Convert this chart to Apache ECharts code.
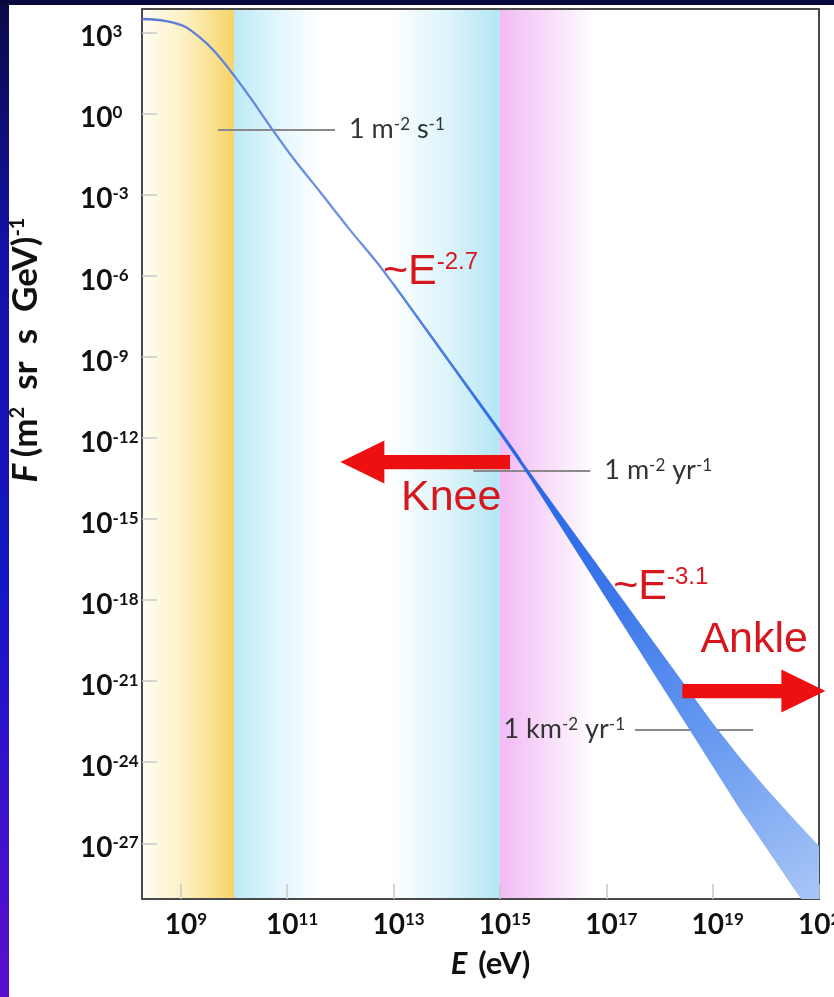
<!DOCTYPE html>
<html><head><meta charset="utf-8">
<script src="https://cdn.jsdelivr.net/npm/echarts@6/dist/echarts.min.js"></script>
<style>html,body{margin:0;padding:0;background:#fff;}#c{width:834px;height:997px;}</style>
</head><body><div id="c"></div>
<script>
// ---------- data (log10 values) ----------
const xTickExps = [9, 11, 13, 15, 17, 19, 21];
const yTickExps = [3, 0, -3, -6, -9, -12, -15, -18, -21, -24, -27];
const xRange = [8.27, 21];
const yRange = [-29.06, 3.86];

// measured spectrum (low-energy single line)
const spectrumLogE = [8.27, 8.70, 9.08, 9.455, 9.74, 10.02, 10.30, 10.73, 11.11, 11.62, 12.18, 12.80, 14.06, 15.25, 15.38];
const spectrumLogF = [3.49, 3.42, 3.20, 2.64, 2.05, 1.35, 0.60, -0.62, -1.65, -2.91, -4.31, -5.80, -9.21, -12.45, -12.82];

// uncertainty band (high energy)
const bandLogE      = [13.0, 14.0, 15.0, 15.5, 16.0, 16.5, 17.0, 17.5, 18.0, 18.5, 19.0, 19.5, 20.0, 20.5, 21.0];
const bandUpperLogF = [-6.27, -8.98, -11.68, -13.10, -14.45, -15.80, -17.15, -18.50, -19.85, -21.20, -22.55, -23.80, -24.95, -26.05, -27.10];
const bandLowerLogF = [-6.39, -9.12, -11.88, -13.30, -14.85, -16.40, -17.95, -19.50, -21.05, -22.60, -24.15, -25.70, -27.15, -28.60, -30.00];

// shaded energy regions
const regionStart = [8.27, 10, 15];
const regionEnd   = [10, 15, 16.8];

// reference flux lines
const refLogF   = [-0.62, -13.23, -22.81];
const refStart  = [9.70, 14.50, 17.54];
const refEnd    = [11.90, 16.70, 19.76];
const refLabels = ['1 m{s|-2} s{s|-1}', '1 m{s|-2} yr{s|-1}', '1 km{s|-2} yr{s|-1}'];
const refLabelAtStart = [false, false, true];

// arrows (tail -> tip)
const arrowTailE = [15.19, 18.43];
const arrowTipE  = [12.00, 21.12];
const arrowLogF  = [-12.9, -21.37];

// red annotations
const noteE    = [12.80, 17.13, 13.14, 18.77];
const noteLogF = [-5.87, -17.52, -14.23, -19.48];
const noteText = ['{m|~E}{p|-2.7}', '{m|~E}{p|-3.1}', '{m|Knee}', '{m|Ankle}'];

// ---------- styling ----------
const LABEL_FONT = 'Lato';
const RED_FONT = 'Liberation Sans';
const regionFills = [
  new echarts.graphic.LinearGradient(0, 0, 1, 0, [
    {offset: 0, color: '#FFFDF5'}, {offset: 0.45, color: '#FDF1C4'}, {offset: 1, color: '#F8D466'}]),
  new echarts.graphic.LinearGradient(0, 0, 1, 0, [
    {offset: 0, color: '#BDEAF6'}, {offset: 0.18, color: '#E4F7FC'}, {offset: 0.33, color: '#FFFFFF'},
    {offset: 0.58, color: '#FFFFFF'}, {offset: 0.8, color: '#DDF4FA'}, {offset: 1, color: '#B3E6F3'}]),
  new echarts.graphic.LinearGradient(0, 0, 1, 0, [
    {offset: 0, color: '#F2BAF6'}, {offset: 0.5, color: '#F8DCFA'}, {offset: 1, color: '#FFFFFF'}])
];
const tickRich = {
  b: {fontSize: 28, fontWeight: 'bold', fontFamily: LABEL_FONT, color: '#111'},
  s: {fontSize: 17, fontWeight: 'bold', fontFamily: LABEL_FONT, color: '#111', verticalAlign: 'top'}
};
const titleRich = {
  i: {fontSize: 35, fontWeight: 'bold', fontStyle: 'italic', fontFamily: LABEL_FONT, color: '#111'},
  n: {fontSize: 35, fontWeight: 'bold', fontFamily: LABEL_FONT, color: '#111'},
  s: {fontSize: 20, fontWeight: 'bold', fontFamily: LABEL_FONT, color: '#111', verticalAlign: 'top'}
};
const xTitleRich = {
  i: {fontSize: 31, fontWeight: 'bold', fontStyle: 'italic', fontFamily: LABEL_FONT, color: '#111'},
  n: {fontSize: 31, fontWeight: 'bold', fontFamily: LABEL_FONT, color: '#111'}
};
const frameLine = {show: true, onZero: false, lineStyle: {color: '#4a4a4a', width: 2}};

const chart = echarts.init(document.getElementById('c'));
chart.setOption({
  animation: false,
  backgroundColor: '#ffffff',
  graphic: [
    {type: 'rect', left: 0, top: 0, shape: {width: 9, height: 997}, z: 100,
     style: {fill: new echarts.graphic.LinearGradient(0, 0, 0, 1, [
       {offset: 0, color: '#0A0A45'}, {offset: 0.25, color: '#1212A8'}, {offset: 0.6, color: '#1616C4'}, {offset: 1, color: '#5A0ECF'}])}},
    {type: 'rect', left: 0, top: 0, shape: {width: 834, height: 5}, z: 100, style: {fill: '#08083C'}}
  ],
  grid: {left: 142, top: 9, right: 15, bottom: 98, containLabel: false, outerBoundsMode: 'none'},
  xAxis: [{
    type: 'value', min: xRange[0], max: xRange[1], position: 'bottom', z: 3,
    axisLine: frameLine, splitLine: {show: false},
    axisTick: {show: true, inside: true, length: 15, customValues: xTickExps, lineStyle: {color: '#C8C8C8', width: 1.5}},
    axisLabel: {customValues: xTickExps, margin: 12, padding: [0, 0, 0, 10],
      formatter: v => '{b|10}{s|' + v + '}', rich: tickRich},
    name: '{i|E} {n| (eV)}', nameLocation: 'middle', nameGap: 49,
    nameTextStyle: {rich: xTitleRich, padding: [0, 0, 0, 20]}
  }, {
    type: 'value', min: xRange[0], max: xRange[1], position: 'top', z: 3,
    axisLine: frameLine, axisTick: {show: false}, axisLabel: {show: false}, splitLine: {show: false}
  }],
  yAxis: [{
    type: 'value', min: yRange[0], max: yRange[1], position: 'left', z: 3,
    axisLine: frameLine, splitLine: {show: false},
    axisTick: {show: true, inside: true, length: 15, customValues: yTickExps, lineStyle: {color: '#C8C8C8', width: 1.5}},
    axisLabel: {customValues: yTickExps, margin: 62, align: 'left', padding: [10, 0, 0, 0],
      formatter: v => '{b|10}{s|' + v + '}', rich: tickRich},
    name: '{i|F}  {n|(m}{s|2}{n|  sr  s  GeV)}{s|-1}', nameLocation: 'middle', nameGap: 99, nameRotate: 90,
    nameTextStyle: {rich: titleRich, padding: [0, 0, 0, 208]}
  }, {
    type: 'value', min: yRange[0], max: yRange[1], position: 'right', z: 3,
    axisLine: frameLine, axisTick: {show: false}, axisLabel: {show: false}, splitLine: {show: false}
  }],
  series: [
    { // energy regions
      type: 'custom', z: 1, silent: true,
      data: regionStart.map((s, i) => [s, regionEnd[i], i]),
      encode: {x: [0, 1]},
      renderItem(params, api) {
        const i = api.value(2);
        const p0 = api.coord([api.value(0), yRange[1]]);
        const p1 = api.coord([api.value(1), yRange[0]]);
        return {type: 'rect', shape: {x: p0[0], y: p0[1], width: p1[0] - p0[0], height: p1[1] - p0[1]},
          style: {fill: regionFills[i]}};
      }
    },
    { // reference flux lines
      type: 'custom', z: 2, silent: true,
      data: refLogF.map((f, i) => [refStart[i], refEnd[i], f, i]),
      encode: {x: [0, 1], y: 2},
      renderItem(params, api) {
        const i = api.value(3);
        const a = api.coord([api.value(0), api.value(2)]);
        const b = api.coord([api.value(1), api.value(2)]);
        const atStart = refLabelAtStart[i];
        return {type: 'group', children: [
          {type: 'line', shape: {x1: a[0], y1: a[1], x2: b[0], y2: b[1]}, style: {stroke: '#8a8a8a', lineWidth: 2}},
          {type: 'text', style: {
            text: refLabels[i], x: atStart ? a[0] - 10 : b[0] + 14, y: a[1] - 1,
            align: atStart ? 'right' : 'left', verticalAlign: 'middle',
            fontSize: 27, fontFamily: LABEL_FONT, fill: '#333',
            rich: {s: {fontSize: 17, fontFamily: LABEL_FONT, fill: '#333', verticalAlign: 'top'}}
          }}
        ]};
      }
    },
    { // spectrum line
      type: 'line', z: 4, smooth: 0.3, showSymbol: false, silent: true,
      data: spectrumLogE.map((e, i) => [e, spectrumLogF[i]]),
      lineStyle: {width: 2.3, color: new echarts.graphic.LinearGradient(0, 0, 1, 0, [
        {offset: 0, color: '#5878D6'}, {offset: 0.55, color: '#6F93E2'}, {offset: 0.85, color: '#3F76E6'}, {offset: 1, color: '#2563E6'}])}
    },
    { // uncertainty band
      type: 'custom', z: 4, silent: true, clip: true,
      data: [[bandLogE[0], bandUpperLogF[0]]],
      renderItem(params, api) {
        const pts = [];
        for (let i = 0; i < bandLogE.length; i++) pts.push(api.coord([bandLogE[i], bandUpperLogF[i]]));
        for (let i = bandLogE.length - 1; i >= 0; i--) pts.push(api.coord([bandLogE[i], bandLowerLogF[i]]));
        return {type: 'polygon', shape: {points: pts},
          style: {fill: new echarts.graphic.LinearGradient(0, 0, 1, 1, [
            {offset: 0, color: '#6A8FE3'}, {offset: 0.3, color: '#2766E6'}, {offset: 0.5, color: '#3C78EA'},
            {offset: 0.74, color: '#6C9DF0'}, {offset: 1, color: '#B0CBF7'}])}};
      }
    },
    { // arrows
      type: 'custom', z: 5, silent: true, clip: false,
      data: arrowTailE.map((t, i) => [t, arrowLogF[i], arrowTipE[i]]),
      encode: {x: [0, 2], y: 1},
      renderItem(params, api) {
        const tail = api.coord([api.value(0), api.value(1)]);
        const tip = api.coord([api.value(2), api.value(1)]);
        const dir = tip[0] > tail[0] ? 1 : -1;
        const hl = 44, hw = 21.5, sw = 7.2;
        const base = tip[0] - dir * hl;
        const y = tail[1];
        return {type: 'polygon', shape: {points: [
          [tail[0], y - sw], [base, y - sw], [base, y - hw], [tip[0], y],
          [base, y + hw], [base, y + sw], [tail[0], y + sw]]},
          style: {fill: '#EE1010'}};
      }
    },
    { // red annotations
      type: 'custom', z: 6, silent: true, clip: false,
      data: noteE.map((e, i) => [e, noteLogF[i], i]),
      renderItem(params, api) {
        const p = api.coord([api.value(0), api.value(1)]);
        return {type: 'text', style: {
          text: noteText[api.value(2)], x: p[0], y: p[1], align: 'left', verticalAlign: 'middle',
          rich: {
            m: {fontSize: 43, fontFamily: RED_FONT, fill: '#D8161E'},
            p: {fontSize: 24, fontFamily: RED_FONT, fill: '#D8161E', verticalAlign: 'top'}
          }
        }};
      }
    }
  ]
});
</script></body></html>
